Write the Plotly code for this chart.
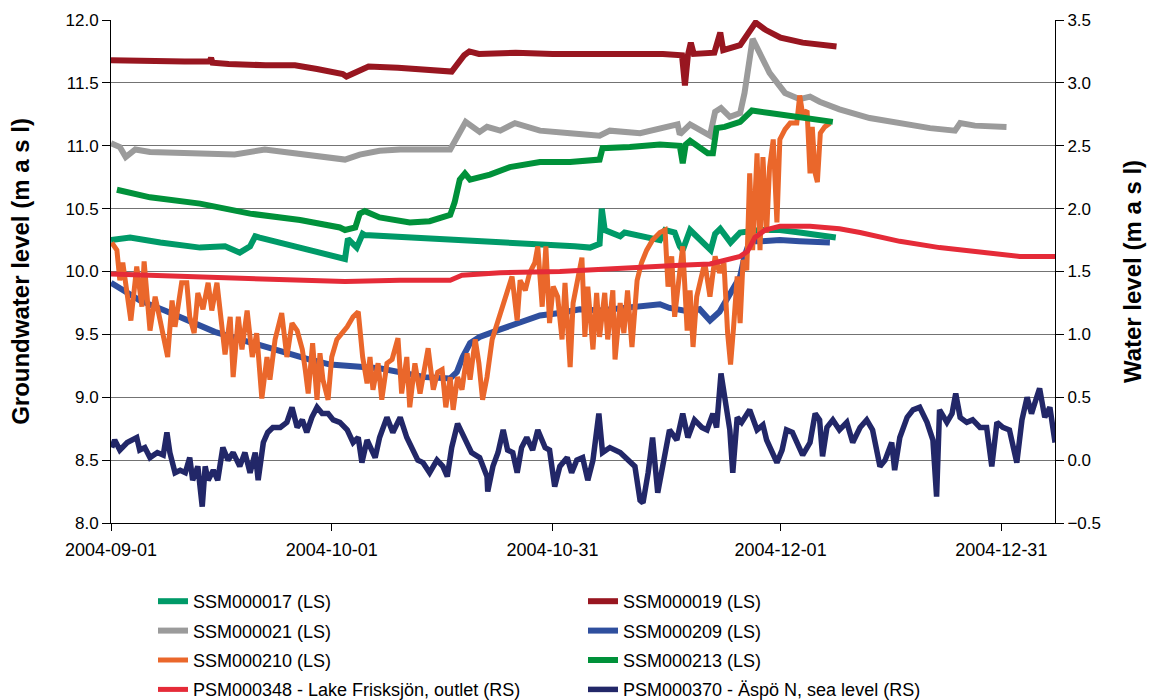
import pandas as pd
import plotly.graph_objects as go

# Time axis: readings are given as day offsets from the start date
START = pd.Timestamp("2004-09-01")
END = pd.Timestamp("2005-01-07 07:00")

tick_dates = ["2004-09-01", "2004-10-01", "2004-10-31", "2004-12-01", "2004-12-31"]

# ---- Groundwater levels, left scale (m a s l) ----
ssm017_days = [0, 2.6, 6.7, 12.1, 15.5, 17.5, 18.9, 19.6, 20.2, 25.7, 31.1, 31.8, 32.2,
               33.4, 34.2, 34.5, 63.0, 65.1, 66.4, 66.7, 67.1, 69.2, 69.8, 71.9, 74.6,
               75.3, 76.6, 77.3, 77.7, 78.7, 80.0, 81.5, 82.1, 82.8, 84.2, 85.5, 88.2,
               90.9, 93.6, 98.5]
ssm017_vals = [10.25, 10.27, 10.23, 10.19, 10.20, 10.15, 10.20, 10.28, 10.27, 10.19, 10.12,
               10.10, 10.26, 10.19, 10.30, 10.29, 10.20, 10.19, 10.22, 10.50, 10.33, 10.28,
               10.31, 10.28, 10.25, 10.33, 10.31, 10.20, 10.17, 10.33, 10.26, 10.17, 10.30,
               10.34, 10.23, 10.31, 10.33, 10.33, 10.31, 10.27]

ssm019_days = [0, 5, 10, 13.4, 13.6, 13.8, 16, 21, 25, 28, 31.5, 32, 33, 35, 39, 44, 46.3,
               48, 48.7, 50, 55, 60, 65, 70, 75, 77.6, 78, 78.4, 78.8, 79.2, 82, 82.8, 83.2,
               85.5, 87.6, 89, 91, 94, 96, 98.6]
ssm019_vals = [11.68, 11.67, 11.67, 11.67, 11.70, 11.66, 11.65, 11.64, 11.64, 11.61, 11.57,
               11.55, 11.58, 11.63, 11.62, 11.60, 11.59, 11.72, 11.75, 11.73, 11.74, 11.73,
               11.73, 11.74, 11.73, 11.72, 11.48, 11.72, 11.82, 11.73, 11.74, 11.90, 11.76,
               11.80, 11.98, 11.92, 11.86, 11.82, 11.81, 11.79]

ssm021_days = [0, 1.2, 2.0, 3.3, 5.3, 13.5, 16.8, 20.9, 25.7, 29.8, 31.8, 33.8, 36.5, 39.3,
               46.1, 48.2, 50.1, 51.1, 52.9, 54.9, 58.3, 62.4, 66.4, 67.8, 71.9, 77.0, 77.3,
               78.7, 81.4, 82.1, 82.9, 84.1, 85.5, 86.1, 87.2, 89.5, 91.6, 93.6, 95.0, 96.3,
               99.0, 103.1, 107.2, 111.3, 114.7, 115.4, 117.4, 121.7]
ssm021_vals = [11.02, 10.99, 10.91, 10.97, 10.95, 10.94, 10.93, 10.97, 10.93, 10.90, 10.89,
               10.93, 10.96, 10.97, 10.97, 11.19, 11.11, 11.15, 11.12, 11.18, 11.12, 11.10,
               11.08, 11.12, 11.10, 11.17, 11.09, 11.17, 11.08, 11.27, 11.30, 11.23, 11.26,
               11.42, 11.85, 11.58, 11.42, 11.37, 11.39, 11.35, 11.29, 11.22, 11.18, 11.14,
               11.12, 11.18, 11.16, 11.15]

ssm209_days = [0, 1.9, 3.9, 7.3, 10.7, 14.1, 17.5, 20.9, 24.3, 27.0, 29.8, 33.8, 36.5, 42.7,
               46.1, 47.0, 47.8, 48.8, 50.1, 52.9, 55.6, 58.3, 61.0, 63.7, 66.4, 69.2, 71.9,
               74.6, 75.9, 78.7, 80.0, 81.4, 82.7, 84.1, 85.5, 86.1, 86.8, 88.2, 90.9, 93.6,
               97.7]
ssm209_vals = [9.91, 9.84, 9.77, 9.69, 9.60, 9.52, 9.46, 9.40, 9.35, 9.30, 9.26, 9.24, 9.23,
               9.16, 9.15, 9.20, 9.32, 9.43, 9.48, 9.54, 9.59, 9.65, 9.67, 9.70, 9.69, 9.71,
               9.73, 9.74, 9.71, 9.68, 9.70, 9.61, 9.68, 9.83, 9.96, 10.12, 10.24, 10.24,
               10.25, 10.24, 10.23]

ssm210_days = [0.1, 0.8, 1.2, 1.6, 2.7, 3.5, 4.2, 4.5, 5.3, 6.0, 6.4, 7.7, 8.3, 8.7, 9.6,
               10.3, 10.7, 11.3, 11.8, 12.5, 13.2, 13.7, 14.4, 14.9, 15.5, 16.2, 16.6, 17.3,
               17.8, 18.5, 19.2, 19.8, 20.5, 21.2, 21.6, 22.3, 23.2, 23.9, 24.6, 25.3, 26.0,
               26.4, 26.8, 27.4, 28.0, 28.4, 28.8, 29.5, 30.0, 30.7, 31.4, 32.1, 32.9, 33.6,
               33.8, 34.2, 34.8, 35.2, 35.6, 36.3, 36.8, 37.5, 38.2, 39.0, 39.5, 40.2, 40.6,
               41.3, 42.0, 42.7, 43.1, 43.8, 44.4, 45.0, 45.5, 46.1, 46.5, 47.1, 47.7, 48.4,
               48.8, 49.5, 50.0, 50.5, 51.1, 51.8, 52.9, 53.9, 54.5, 55.2, 55.6, 56.3, 56.9,
               57.6, 58.0, 58.6, 59.1, 59.6, 60.1, 60.7, 61.3, 61.7, 62.4, 62.8, 63.3, 64.0,
               64.4, 64.8, 65.5, 66.0, 66.4, 67.1, 67.5, 68.2, 68.5, 69.2, 69.7, 70.2, 70.8,
               71.5, 72.1, 72.8, 73.6, 74.6, 75.3, 75.7, 76.2, 76.6, 77.2, 77.7, 78.3, 78.7,
               79.1, 79.6, 80.2, 80.7, 81.4, 82.1, 82.7, 83.3, 83.8, 84.2, 84.6, 85.1, 85.5,
               85.9, 86.4, 86.8, 87.2, 87.8, 88.2, 88.6, 89.1, 89.5, 90.0, 90.5, 90.9, 91.6,
               92.3, 93.2, 93.6, 94.0, 94.6, 95.0, 95.3, 95.7, 96.0, 96.4, 97.0, 97.7]
ssm210_vals = [10.23, 10.17, 9.93, 10.07, 9.61, 10.04, 9.72, 10.08, 9.53, 9.80, 9.69, 9.32,
               9.77, 9.56, 9.91, 9.91, 9.64, 9.51, 9.83, 9.70, 9.91, 9.69, 9.91, 9.67, 9.34,
               9.64, 9.16, 9.64, 9.38, 9.69, 9.32, 9.51, 8.99, 9.32, 9.14, 9.46, 9.67, 9.32,
               9.59, 9.53, 9.38, 9.22, 9.03, 9.43, 8.98, 9.35, 9.14, 8.98, 9.32, 9.46, 9.51,
               9.56, 9.64, 9.68, 9.56, 9.32, 9.11, 9.32, 9.06, 9.27, 8.98, 9.27, 9.30, 9.47,
               9.03, 9.32, 8.92, 9.27, 9.03, 9.27, 9.39, 9.06, 9.20, 9.22, 8.92, 9.16, 8.90,
               9.16, 9.06, 9.35, 9.14, 9.46, 9.27, 8.98, 9.16, 9.46, 9.67, 9.85, 9.96, 9.61,
               9.93, 9.85, 9.99, 10.07, 10.20, 9.72, 10.20, 9.59, 9.88, 9.80, 9.46, 9.91,
               9.24, 9.75, 9.91, 10.11, 9.48, 9.88, 9.38, 9.83, 9.48, 9.83, 9.46, 9.85, 9.30,
               9.75, 9.51, 9.85, 9.40, 9.93, 10.07, 10.17, 10.25, 10.31, 10.33, 9.88, 10.12,
               9.64, 9.95, 10.20, 9.53, 9.85, 9.40, 9.80, 9.95, 10.07, 9.80, 10.12, 9.99,
               10.07, 9.51, 9.26, 9.55, 9.96, 9.59, 10.09, 10.01, 10.78, 10.17, 10.94, 10.17,
               10.91, 10.31, 10.83, 11.05, 10.39, 11.05, 11.13, 11.18, 11.18, 11.40, 11.25,
               11.28, 10.78, 11.15, 10.78, 10.71, 11.10, 11.15, 11.18]

ssm213_days = [0.8, 5.3, 12.1, 18.9, 25.7, 31.1, 31.8, 33.2, 33.8, 34.5, 36.5, 40.6, 43.3,
               46.1, 46.7, 47.4, 48.1, 48.8, 51.5, 54.2, 58.3, 62.4, 66.4, 66.8, 70.5, 74.6,
               77.3, 77.7, 78.1, 78.7, 81.1, 81.8, 82.3, 83.4, 85.5, 87.1, 89.5, 93.6, 98.1]
ssm213_vals = [10.65, 10.59, 10.54, 10.46, 10.41, 10.35, 10.33, 10.35, 10.46, 10.48, 10.43,
               10.39, 10.40, 10.45, 10.55, 10.73, 10.78, 10.73, 10.77, 10.83, 10.87, 10.87,
               10.89, 10.98, 10.99, 11.01, 11.00, 10.86, 11.01, 11.04, 10.94, 10.94, 11.14,
               11.15, 11.19, 11.28, 11.26, 11.23, 11.19]

# ---- Surface / sea water levels, right scale (m a s l) ----
psm348_days = [0, 12.1, 25.7, 31.8, 39.3, 46.1, 47.7, 52.9, 61.0, 69.2, 77.3, 81.4, 83.4,
               85.5, 86.5, 87.5, 88.9, 90.9, 95.0, 99.0, 101.8, 107.2, 112.6, 118.1, 123.5,
               128.3]
psm348_vals = [1.48, 1.46, 1.44, 1.42, 1.43, 1.43, 1.47, 1.49, 1.50, 1.53, 1.55, 1.56, 1.59,
               1.62, 1.66, 1.77, 1.83, 1.86, 1.86, 1.84, 1.81, 1.74, 1.69, 1.65, 1.62, 1.62]

psm370_days = [0.1, 0.5, 1.2, 2.2, 3.5, 3.9, 4.6, 5.3, 6.3, 7.1, 7.6, 8.0, 8.7, 9.4, 10.1,
               10.7, 11.1, 11.8, 12.4, 12.8, 13.2, 13.9, 14.5, 15.2, 15.9, 16.6, 17.5, 18.2,
               18.9, 19.6, 20.0, 20.7, 21.3, 22.0, 23.0, 23.9, 24.6, 25.3, 26.0, 26.6, 27.3,
               28.0, 28.7, 29.5, 30.2, 31.1, 32.1, 32.9, 33.6, 34.1, 34.8, 35.9, 36.5, 37.5,
               38.3, 39.3, 40.2, 41.0, 41.7, 42.4, 43.3, 44.3, 45.1, 45.7, 46.3, 47.1, 48.1,
               49.0, 50.1, 51.1, 51.2, 51.9, 52.6, 53.3, 53.9, 54.6, 55.2, 55.8, 56.5, 57.3,
               58.0, 59.0, 59.6, 60.3, 61.0, 62.0, 62.6, 63.3, 64.1, 64.8, 65.5, 66.3, 66.8,
               67.8, 69.2, 70.2, 71.2, 71.9, 72.3, 73.0, 73.6, 74.3, 75.0, 75.9, 76.9, 77.7,
               78.4, 79.3, 80.3, 81.0, 81.8, 82.3, 82.9, 83.4, 84.1, 84.5, 85.1, 85.7, 86.8,
               87.8, 88.6, 89.1, 89.8, 90.5, 91.2, 91.8, 92.6, 93.6, 94.0, 95.0, 95.7, 96.3,
               96.7, 97.3, 98.1, 99.0, 100.0, 100.8, 101.8, 102.7, 103.5, 104.5, 105.2, 106.1,
               106.5, 107.2, 108.2, 109.0, 109.9, 110.9, 111.7, 112.2, 112.6, 113.6, 114.3,
               114.8, 115.4, 116.3, 117.1, 118.1, 119.0, 119.7, 120.4, 121.2, 122.1, 123.1,
               123.8, 124.5, 125.1, 125.8, 126.2, 126.9, 127.6, 128.3]
psm370_vals = [0.10, 0.16, 0.08, 0.14, 0.18, 0.08, 0.10, 0.02, 0.06, 0.04, 0.22, 0.06, -0.10,
               -0.08, -0.10, 0.02, -0.16, -0.05, -0.37, -0.05, -0.16, -0.08, -0.16, 0.10,
               0.00, 0.06, -0.05, 0.06, -0.10, 0.06, -0.16, 0.14, 0.22, 0.26, 0.26, 0.30,
               0.42, 0.26, 0.32, 0.22, 0.34, 0.42, 0.37, 0.37, 0.32, 0.30, 0.24, 0.14, 0.18,
               -0.02, 0.16, 0.02, 0.18, 0.34, 0.22, 0.34, 0.18, 0.08, 0.00, -0.02, -0.10,
               0.00, -0.05, -0.13, 0.10, 0.29, 0.18, 0.06, 0.02, -0.13, -0.25, -0.05, 0.06,
               0.24, 0.08, 0.06, -0.10, 0.10, 0.18, 0.08, 0.24, 0.10, 0.08, -0.21, -0.05,
               0.02, -0.10, 0.00, 0.02, -0.16, 0.00, 0.37, 0.06, 0.10, 0.06, 0.00, -0.05,
               -0.32, -0.34, -0.10, 0.18, -0.26, -0.02, 0.24, 0.16, 0.37, 0.18, 0.32, 0.26,
               0.24, 0.37, 0.26, 0.69, 0.50, 0.24, -0.10, 0.34, 0.30, 0.40, 0.24, 0.28, 0.16,
               0.08, -0.02, 0.08, 0.24, 0.22, 0.08, 0.04, 0.14, 0.37, 0.32, 0.03, 0.26, 0.32,
               0.24, 0.30, 0.14, 0.26, 0.32, 0.24, -0.05, 0.00, 0.14, -0.08, 0.18, 0.34,
               0.40, 0.42, 0.30, 0.16, -0.29, 0.40, 0.30, 0.37, 0.53, 0.34, 0.30, 0.32, 0.26,
               0.26, -0.05, 0.30, 0.26, 0.24, -0.02, 0.32, 0.50, 0.37, 0.50, 0.57, 0.34,
               0.42, 0.14]


def to_dates(days):
    return START + pd.to_timedelta(days, unit="D")


# name, days, values, colour, y-axis, legend column, line width
series = [
    ("SSM000017 (LS)", ssm017_days, ssm017_vals, "#009a68", "y", "legend", 6),
    ("SSM000019 (LS)", ssm019_days, ssm019_vals, "#981620", "y", "legend2", 6),
    ("SSM000021 (LS)", ssm021_days, ssm021_vals, "#9b9b9b", "y", "legend", 6),
    ("SSM000209 (LS)", ssm209_days, ssm209_vals, "#2f4f9e", "y", "legend2", 6),
    ("SSM000210 (LS)", ssm210_days, ssm210_vals, "#ea672b", "y", "legend", 5),
    ("SSM000213 (LS)", ssm213_days, ssm213_vals, "#00913a", "y", "legend2", 6),
    ("PSM000348 - Lake Frisksjön, outlet (RS)", psm348_days, psm348_vals, "#e52b38", "y2", "legend", 5),
    ("PSM000370 - Äspö N, sea level (RS)", psm370_days, psm370_vals, "#222768", "y2", "legend2", 5.5),
]

fig = go.Figure()
for name, days, vals, color, yax, leg, width in series:
    fig.add_trace(go.Scatter(
        x=to_dates(days), y=vals, name=name, mode="lines",
        line=dict(color=color, width=width),
        yaxis=yax, legend=leg, legendgroup=name,
    ))

FONT = "Liberation Sans, Arial, sans-serif"
# Legends are placed in container coordinates so they sit in the bottom margin
legend_common = dict(
    orientation="v", xanchor="left", yanchor="top",
    yref="container", y=1 - 583 / 700,
    font=dict(family=FONT, size=18, color="black"),
    bgcolor="rgba(0,0,0,0)", itemwidth=30, tracegroupgap=3,
)

fig.update_layout(
    width=1155, height=700,
    margin=dict(l=111, r=100, t=20, b=177),
    paper_bgcolor="white", plot_bgcolor="white",
    font=dict(family=FONT, color="black"),
    showlegend=True,
    legend=dict(legend_common, x=(153 - 111) / 944),
    legend2=dict(legend_common, x=(583 - 111) / 944),
    xaxis=dict(
        type="date", range=[START, END],
        tickvals=tick_dates, tickformat="%Y-%m-%d",
        tickfont=dict(size=18, family=FONT),
        ticks="outside", ticklen=7, tickcolor="black", ticklabelstandoff=3,
        showline=True, linecolor="black", linewidth=1,
        showgrid=False, zeroline=False,
    ),
    yaxis=dict(
        range=[8, 12], tick0=8, dtick=0.5, tickformat=".1f",
        tickfont=dict(size=17, family=FONT),
        ticks="outside", ticklen=8, tickcolor="black",
        showline=True, linecolor="black", linewidth=1,
        showgrid=True, gridcolor="#737373", gridwidth=1.2, zeroline=False,
        title=dict(text="Groundwater level (m a s l)", standoff=29,
                   font=dict(size=24, family=FONT, weight="bold")),
    ),
    yaxis2=dict(
        overlaying="y", side="right",
        range=[-0.5, 3.5], tick0=-0.5, dtick=0.5, tickformat=".1f",
        tickfont=dict(size=17, family=FONT),
        ticks="outside", ticklen=8, tickcolor="black",
        showline=True, linecolor="black", linewidth=1,
        showgrid=False, zeroline=False,
        title=dict(text="Water level (m a s l)", standoff=24,
                   font=dict(size=24, family=FONT, weight="bold")),
    ),
)

fig.write_html("out.html")
